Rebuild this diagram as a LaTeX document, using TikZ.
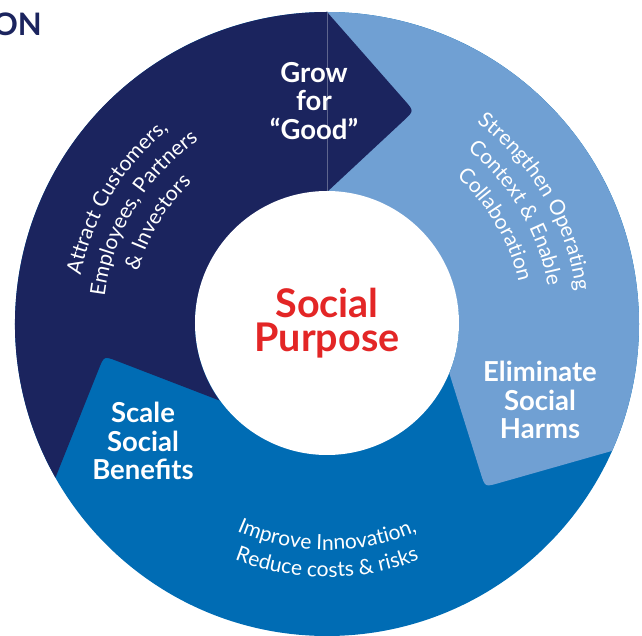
\documentclass[tikz,border=0pt]{standalone}
\usepackage{fontspec}
\setmainfont{Lato}
\usetikzlibrary{calc,decorations.text}
\definecolor{navyseg}{RGB}{27,36,94}
\definecolor{lightseg}{RGB}{112,160,211}
\definecolor{midseg}{RGB}{0,108,180}
\definecolor{purposered}{RGB}{227,38,38}
\newcommand\arcfont{\fontsize{21}{23}\selectfont}
\tikzset{
  bigtxt/.style={white, font=\fontsize{27.5}{28.5}\selectfont\bfseries, align=center, inner sep=0pt},
  arclabel/.style={decorate, decoration={text along path, text align=center, text color=white, text={|\arcfont|#1}}}
}
\begin{document}
\begin{tikzpicture}[x=1pt,y=1pt]
        \def\rout{312}
        \def\rin{132}
        \def\tipcut{14pt}
        \useasboundingbox (-327,-312) rectangle (315,324);
        \coordinate (navytip) at (87,213);
        \coordinate (lighttip) at (158,-163);
        \coordinate (midtip) at (-223,-32);
        % ring base
        \fill[midseg] (0,0) circle[radius=\rout pt];
        \fill[lightseg] (90:\rout pt) arc[start angle=90, end angle=-24, radius=\rout pt]
          -- ($(lighttip)!\tipcut!(-24:\rout pt)$) .. controls (lighttip) .. ($(lighttip)!\tipcut!(-22:\rin pt)$)
          -- (-22:\rin pt) arc[start angle=-22, end angle=90, radius=\rin pt] -- cycle;
        \fill[navyseg] (209.5:\rout pt) arc[start angle=209.5, end angle=90, radius=\rout pt]
          -- ($(navytip)!\tipcut!(90:\rout pt)$) .. controls (navytip) .. ($(navytip)!\tipcut!(90:\rin pt)$)
          -- (90:\rin pt) arc[start angle=90, end angle=215.4, radius=\rin pt]
          -- ($(midtip)!\tipcut!(215.4:\rin pt)$) .. controls (midtip) .. ($(midtip)!\tipcut!(209.5:\rout pt)$) -- cycle;
        \draw[navyseg!70!white, line width=0.4pt] (90:\rin pt) -- (90:\rout pt);
        % hub
        \node[circle, fill=white, minimum size=264pt, inner sep=0pt, text=purposered, align=center,
          font=\fontsize{39.5}{34}\selectfont\bfseries] (hub) at (0,1) {Social\\Purpose};
        \node[bigtxt] (grow) at (-13,223) {Grow\\for\\“Good”};
        \node[bigtxt] (harms) at (213,-76) {Eliminate\\Social\\Harms};
        \node[bigtxt] (benefits) at (-184,-117) {Scale\\Social\\Benefits};
        \node[navyseg, font=\fontsize{31}{31}\selectfont\bfseries, anchor=base east, inner sep=0pt] (title) at (-285,288) {ON};
        % curved labels
        \path[arclabel={Attract Customers,}] (194:251pt) arc[start angle=194, end angle=104, radius=251pt];
        \path[arclabel={Employees, Partners}] (194:224pt) arc[start angle=194, end angle=104, radius=224pt];
        \path[arclabel={{\&} Investors}] (194:196pt) arc[start angle=194, end angle=104, radius=196pt];
        \path[arclabel={Strengthen Operating}] (75.5:251pt) arc[start angle=75.5, end angle=-14.5, radius=251pt];
        \path[arclabel={Context {\&} Enable}] (75.5:224pt) arc[start angle=75.5, end angle=-14.5, radius=224pt];
        \path[arclabel={Collaboration}] (75.5:196pt) arc[start angle=75.5, end angle=-14.5, radius=196pt];
        \path[arclabel={Improve Innovation,}] (225:226pt) arc[start angle=225, end angle=315, radius=226pt];
        \path[arclabel={Reduce costs {\&} risks}] (225:253pt) arc[start angle=225, end angle=315, radius=253pt];
\end{tikzpicture}
\end{document}
